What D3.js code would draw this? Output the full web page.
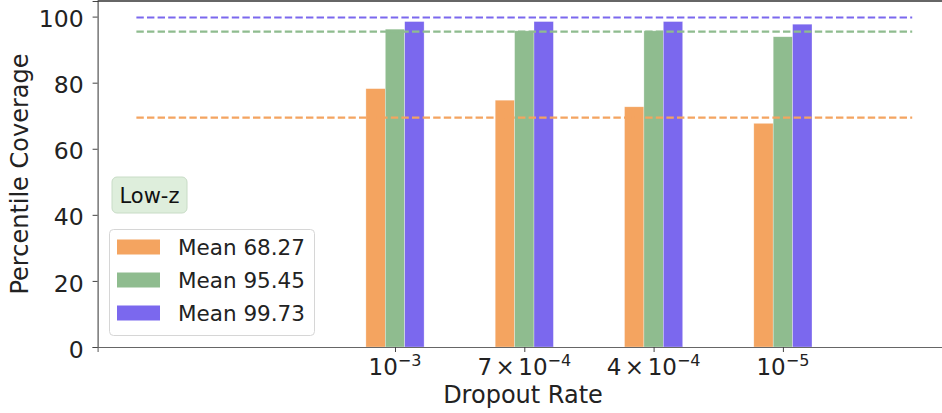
<!DOCTYPE html>
<html><head><meta charset="utf-8">
<script src="https://cdn.jsdelivr.net/npm/d3@7"></script>
<style>body{margin:0;background:#fff}svg{display:block;font-family:"DejaVu Sans",sans-serif}</style>
</head><body><svg id="c" width="942" height="413"></svg>
<script>
const categories = [
  {base:"10", exp:"−3", pre:""},
  {base:"10", exp:"−4", pre:"7"},
  {base:"10", exp:"−4", pre:"4"},
  {base:"10", exp:"−5", pre:""}
];
const seriesNames = ["Mean 68.27","Mean 95.45","Mean 99.73"];
const seriesColors = ["#f4a460","#8fbc8f","#7b68ee"];
const values68 = [78.2, 74.7, 72.7, 67.7];
const values95 = [96.2, 95.7, 95.7, 93.9];
const values99 = [98.5, 98.5, 98.5, 97.7];
const meanLines = [69.4, 95.45, 99.73];
const yTicks = [0,20,40,60,80,100];
const series = [values68, values95, values99];

const svg = d3.select("#c");
const x = d3.scaleLinear().domain([-2.3, 4.3]).range([97.6, 951]);
const y = d3.scaleLinear().domain([0, 104.72]).range([347, 1]);
const bw = 0.15;

// bars
series.forEach((vals, si) => {
  svg.append("g").selectAll("rect").data(vals).join("rect")
    .attr("x", (d,i) => x(i + (si-1)*bw - bw/2))
    .attr("width", x(bw) - x(0))
    .attr("y", d => y(d))
    .attr("height", d => y(0) - y(d))
    .attr("fill", seriesColors[si])
    .attr("stroke", "#fff").attr("stroke-opacity", 0.5).attr("stroke-width", 0.6);
});

// mean lines
meanLines.forEach((v, si) => {
  svg.append("line")
    .attr("x1", x(-2)).attr("x2", x(4))
    .attr("y1", y(v)).attr("y2", y(v))
    .attr("stroke", seriesColors[si]).attr("stroke-width", 2.2)
    .attr("stroke-dasharray", "7.4,3.2");
});

// axes
const yAxis = d3.axisLeft(y).tickValues(yTicks).tickSize(5).tickPadding(9);
const gy = svg.append("g").attr("transform", `translate(${x(-2.3)},0)`).call(yAxis);
gy.selectAll("text").attr("font-size", 23.5).attr("fill", "#222").attr("font-family", "DejaVu Sans").attr("dy", "0.43em");
gy.selectAll("line").attr("stroke", "#444");
gy.select(".domain").attr("stroke", "#444").attr("stroke-width", 1.1);

const xAxis = d3.axisBottom(x).tickValues([0,1,2,3]).tickSize(5).tickFormat("");
const gx = svg.append("g").attr("transform", `translate(0,${y(0)})`).call(xAxis);
gx.selectAll("line").attr("stroke", "#444");
gx.select(".domain").attr("stroke", "#666").attr("stroke-width", 1.1);

// top spine
svg.append("line").attr("x1", x(-2.3)).attr("x2", 942).attr("y1", y(104.72)).attr("y2", y(104.72))
  .attr("stroke", "#333").attr("stroke-width", 1.3);

// x tick labels
categories.forEach((c, i) => {
  const t = svg.append("text").attr("x", x(i)).attr("y", 375)
    .attr("text-anchor", "middle").attr("font-size", 23).attr("fill", "#222");
  if (c.pre) {
    t.append("tspan").text(c.pre);
    t.append("tspan").attr("dx", 3.5).text("×");
    t.append("tspan").attr("dx", 3.5).text(c.base);
  } else {
    t.append("tspan").text(c.base);
  }
  t.append("tspan").attr("dy", -9).attr("font-size", 16).text(c.exp);
});

// axis labels
svg.append("text").attr("x", 523).attr("y", 403).attr("text-anchor", "middle")
  .attr("font-size", 24).attr("fill", "#222").text("Dropout Rate");
svg.append("text").attr("transform", "translate(28,174) rotate(-90)")
  .attr("text-anchor", "middle").attr("font-size", 24).attr("fill", "#222").text("Percentile Coverage");

// Low-z box
svg.append("rect").attr("x", 112).attr("y", 177).attr("width", 75).attr("height", 36)
  .attr("rx", 5).attr("fill", "#deeedc").attr("stroke", "#c8dcc6").attr("stroke-width", 1);
svg.append("text").attr("x", 149.5).attr("y", 202.5).attr("text-anchor", "middle")
  .attr("font-size", 21).attr("fill", "#111").text("Low-z");

// legend
const lg = svg.append("g");
lg.append("rect").attr("x", 109.5).attr("y", 229.5).attr("width", 205).attr("height", 106)
  .attr("rx", 4).attr("fill", "#fff").attr("fill-opacity", 0.8).attr("stroke", "#d6d6d6");
seriesNames.forEach((n, i) => {
  const cy = 247 + i*33;
  lg.append("rect").attr("x", 117).attr("y", cy - 7.5).attr("width", 43).attr("height", 15)
    .attr("fill", seriesColors[i]);
  lg.append("text").attr("x", 178).attr("y", cy + 7.5).attr("font-size", 21.5)
    .attr("fill", "#222").text(n);
});
</script></body></html>
